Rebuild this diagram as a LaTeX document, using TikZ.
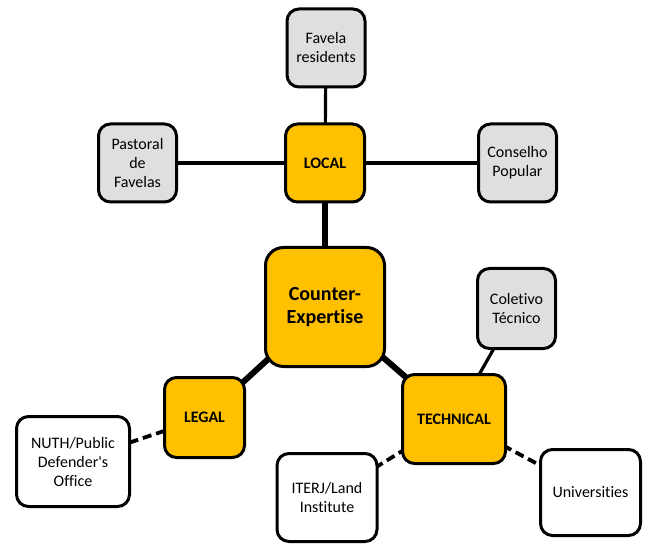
\documentclass[tikz,border=0pt]{standalone}
\usepackage{fontspec}
\setmainfont{Carlito}[Ligatures={NoCommon,TeXOff}]
\usetikzlibrary{backgrounds}
\definecolor{boxgold}{HTML}{FFC000}
\definecolor{boxgray}{HTML}{DFDFDF}
\begin{document}
\begin{tikzpicture}[x=1pt,y=-1pt,
    box/.style={draw,line width=3pt,rounded corners=12pt,align=center,inner sep=2pt,
      font=\fontsize{16}{19}\selectfont},
    gbox/.style={box,fill=boxgray},
    wbox/.style={box,fill=white},
    obox/.style={box,fill=boxgold,font=\fontsize{16}{19}\selectfont\bfseries},
    link/.style={line width=3.2pt},
    strong/.style={line width=6pt},
    weak/.style={line width=3.8pt,dash pattern=on 9pt off 5pt}]
  \useasboundingbox (0,0) rectangle (645,545);
  % centre and its three fields
  \node[obox,minimum width=119pt,minimum height=119pt,rounded corners=18pt,
    font=\fontsize{20}{23}\selectfont\bfseries] (ce) at (325,307) {Counter-\\Expertise};
  \node[obox,minimum width=79pt,minimum height=78pt] (loc) at (325,163) {LOCAL};
  \node[obox,minimum width=80pt,minimum height=80pt] (leg) at (204.5,417.5) {LEGAL};
  \node[obox,minimum width=103pt,minimum height=89pt] (tec) at (454,419) {TECHNICAL};
  % actors
  \node[gbox,minimum width=78pt,minimum height=78pt] (fav) at (326,48) {Favela\\residents};
  \node[gbox,minimum width=78pt,minimum height=78pt] (pas) at (137.5,163) {Pastoral\\de\\Favelas};
  \node[gbox,minimum width=78pt,minimum height=78pt] (con) at (517.5,163) {Conselho\\Popular};
  \node[gbox,minimum width=78pt,minimum height=80pt] (col) at (516.5,308.5) {Coletivo\\Técnico};
  \node[wbox,minimum width=113pt,minimum height=90pt] (nut) at (73,461.5) {NUTH/Public\\Defender's\\Office};
  \node[wbox,minimum width=100pt,minimum height=88pt] (itr) at (327,497.5) {ITERJ/Land\\Institute};
  \node[wbox,minimum width=100pt,minimum height=86pt] (uni) at (590.5,492.5) {Universities};
  % links
  \begin{pgfonlayer}{background}
    \draw[strong] (ce.center) -- (loc.center);
    \draw[strong] (ce.center) -- (leg.center);
    \draw[strong] (ce.center) -- (tec.center);
    \draw[link] (loc.center) -- (fav.center);
    \draw[link] (loc.center) -- (pas.center);
    \draw[link] (loc.center) -- (con.center);
    \draw[link] (tec.center) -- (col.center);
    \draw[weak] (leg.center) -- (nut.center);
    \draw[weak] (tec.center) -- (itr.center);
    \draw[weak] (tec.center) -- (uni.center);
  \end{pgfonlayer}
\end{tikzpicture}
\end{document}
